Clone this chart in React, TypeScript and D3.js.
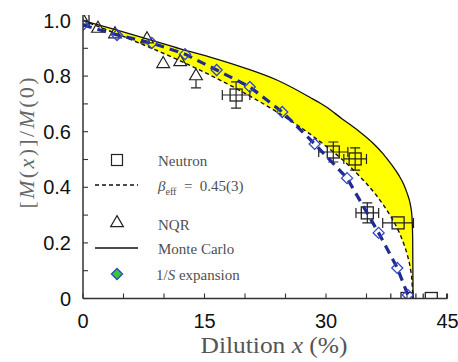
import React from "react";
import * as d3 from "d3";

// Monte Carlo band: upper solid curve and lower beta_eff dashed curve
const bandX = [0, 4, 8, 12, 16, 20, 24, 28, 30, 32, 34, 36, 37, 38, 39, 39.6, 40, 40.4, 40.6, 40.7, 40.75];
const monteCarloY = [1.0, 0.967, 0.933, 0.898, 0.866, 0.829, 0.785, 0.724, 0.69, 0.646, 0.603, 0.553, 0.522, 0.485, 0.443, 0.41, 0.38, 0.34, 0.3, 0.22, 0];
const betaEffY = [1.0, 0.954, 0.906, 0.855, 0.799, 0.738, 0.67, 0.592, 0.548, 0.5, 0.444, 0.379, 0.34, 0.295, 0.24, 0.197, 0.161, 0.11, 0.067, 0.02, 0];

// 1/S expansion
const spinX = [0, 4.2, 8.5, 12.6, 16.5, 20.6, 24.6, 28.6, 32.6, 36.5, 38.8, 40.1];
const spinY = [0.984, 0.948, 0.919, 0.879, 0.822, 0.761, 0.671, 0.556, 0.433, 0.236, 0.11, 0.013];
const spinEndX = 40.55;
const spinEndY = 0;

// NQR
const nqrX = [0, 1.85, 3.95, 7.9, 9.9, 12.0, 13.95];
const nqrY = [1.0, 0.971, 0.951, 0.933, 0.844, 0.851, 0.8];
const nqrYErr = [0, 0, 0, 0, 0, 0, 0.042];

// Neutron
const neutronX = [0, 18.9, 30.9, 33.6, 35.1, 38.9, 40.0, 43.0];
const neutronY = [1.0, 0.732, 0.527, 0.502, 0.308, 0.272, 0, 0];
const neutronXErr = [0, 1.7, 1.8, 1.4, 1.4, 1.9, 2.0, 1.9];
const neutronYErr = [0, 0.047, 0.036, 0.04, 0.036, 0, 0, 0];

const xTickLabels = [0, 15, 30, 45];
const yTickLabels = [0, 0.2, 0.4, 0.6, 0.8, 1.0];

const W = 458;
const H = 362;

export default function App() {
  const x = d3.scaleLinear().domain([0, 45]).range([83, 447.5]);
  const y = d3.scaleLinear().domain([0, 1]).range([298.5, 20.5]);
  const yTop = y(1.02);

  const band = bandX.map((v, i) => ({ x: v, lo: betaEffY[i], hi: monteCarloY[i] }));
  const area = d3
    .area<{ x: number; lo: number; hi: number }>()
    .x((d) => x(d.x))
    .y0((d) => y(d.lo))
    .y1((d) => y(d.hi))
    .curve(d3.curveMonotoneX);
  const line = d3
    .line<[number, number]>()
    .x((d) => x(d[0]))
    .y((d) => y(d[1]))
    .curve(d3.curveMonotoneX);
  const lineLin = d3
    .line<[number, number]>()
    .x((d) => x(d[0]))
    .y((d) => y(d[1]));

  const mcPts = bandX.map((v, i) => [v, monteCarloY[i]] as [number, number]);
  const betaPts = bandX.map((v, i) => [v, betaEffY[i]] as [number, number]);
  const spinPts = [...spinX.map((v, i) => [v, spinY[i]] as [number, number]), [spinEndX, spinEndY] as [number, number]];

  const tri = d3.symbol().type(d3.symbolTriangle).size(70)() as string;
  const yMinor = d3.range(0, 1.0001, 0.1);
  const xMinor = d3.range(0, 45.001, 5);

  const ink = "#222";
  const gray = "#4f4f4f";
  const blue = "#1f2c8f";
  const diamondStroke = "#3446c4";
  const serif = "'Liberation Serif', 'Times New Roman', serif";
  const sans = "'Liberation Sans', Arial, sans-serif";

  const sq = 12;
  const cap = 5;

  return (
    <svg width={W} height={H} style={{ position: "absolute", left: 0, top: 0, background: "#fff" }}>
      <defs>
        <clipPath id="plotClip">
          <rect x={x(0)} y={yTop} width={x(45) - x(0)} height={y(0) - yTop} />
        </clipPath>
      </defs>

      <g clipPath="url(#plotClip)">
        <path d={area(band) || ""} fill="#ffff00" stroke="none" />
        <path d={line(mcPts) || ""} fill="none" stroke="#111" strokeWidth={1.3} />
        <path d={line(betaPts) || ""} fill="none" stroke="#111" strokeWidth={1.4} strokeDasharray="4,3" />

        {/* Neutron error bars */}
        {neutronX.map((v, i) => {
          const cx = x(v);
          const cy = y(neutronY[i]);
          const ex = neutronXErr[i];
          const ey = neutronYErr[i];
          return (
            <g key={"ne" + i} stroke={ink} strokeWidth={1.2}>
              {ex > 0 && (
                <>
                  <line x1={x(v - ex)} x2={x(v + ex)} y1={cy} y2={cy} />
                  <line x1={x(v - ex)} x2={x(v - ex)} y1={cy - cap} y2={cy + cap} />
                  <line x1={x(v + ex)} x2={x(v + ex)} y1={cy - cap} y2={cy + cap} />
                </>
              )}
              {ey > 0 && (
                <>
                  <line x1={cx} x2={cx} y1={y(neutronY[i] - ey)} y2={y(neutronY[i] + ey)} />
                  <line x1={cx - cap} x2={cx + cap} y1={y(neutronY[i] - ey)} y2={y(neutronY[i] - ey)} />
                  <line x1={cx - cap} x2={cx + cap} y1={y(neutronY[i] + ey)} y2={y(neutronY[i] + ey)} />
                </>
              )}
            </g>
          );
        })}
        {neutronX.map((v, i) => (
          <rect
            key={"ns" + i}
            x={x(v) - sq / 2}
            y={y(neutronY[i]) - sq / 2}
            width={sq}
            height={sq}
            fill="none"
            stroke={ink}
            strokeWidth={1.3}
          />
        ))}

        {/* NQR */}
        {nqrX.map((v, i) => {
          const cx = x(v);
          const cy = y(nqrY[i]);
          const ey = nqrYErr[i];
          return (
            <g key={"nq" + i}>
              {ey > 0 && (
                <g stroke={ink} strokeWidth={1.2}>
                  <line x1={cx} x2={cx} y1={y(nqrY[i] - ey)} y2={cy + 4} />
                  <line x1={cx - cap} x2={cx + cap} y1={y(nqrY[i] - ey)} y2={y(nqrY[i] - ey)} />
                </g>
              )}
              <path d={tri} transform={`translate(${cx},${cy})`} fill="none" stroke={ink} strokeWidth={1.2} />
            </g>
          );
        })}

        {/* 1/S expansion */}
        <path d={lineLin(spinPts) || ""} fill="none" stroke={blue} strokeWidth={3.2} strokeDasharray="9,6" />
        {spinX.map((v, i) => {
          const cx = x(v);
          const cy = y(spinY[i]);
          const r = 5.5;
          return (
            <path
              key={"sp" + i}
              d={`M${cx},${cy - r}L${cx + r},${cy}L${cx},${cy + r}L${cx - r},${cy}Z`}
              fill="none"
              stroke={diamondStroke}
              strokeWidth={1.3}
            />
          );
        })}
      </g>

      {/* Axes */}
      <g stroke="#333" strokeWidth={1.5}>
        <line x1={x(0)} x2={x(0)} y1={y(0)} y2={yTop} />
        <line x1={x(0)} x2={x(45)} y1={y(0)} y2={y(0)} />
        {yMinor.map((t) => (
          <line key={"yt" + t} x1={x(0)} x2={x(0) + 5} y1={y(t)} y2={y(t)} strokeWidth={1.1} />
        ))}
        {xMinor.map((t) => (
          <line key={"xt" + t} x1={x(t)} x2={x(t)} y1={y(0)} y2={y(0) - 5} strokeWidth={1.1} />
        ))}
      </g>
      <g fontFamily={sans} fontSize={20} fill="#111">
        {yTickLabels.map((t) => (
          <text key={"yl" + t} x={71} y={y(t) + 7} textAnchor="end">
            {t === 0 ? "0" : d3.format(".1f")(t)}
          </text>
        ))}
        {xTickLabels.map((t) => (
          <text key={"xl" + t} x={x(t)} y={328} textAnchor="middle">
            {t}
          </text>
        ))}
      </g>

      {/* Axis titles */}
      <text
        transform={`translate(34,143) rotate(-90)`}
        textAnchor="middle"
        fontFamily={serif}
        fontSize={22}
        fill="#666"
        textLength={131}
        lengthAdjust="spacing"
      >
        [<tspan fontStyle="italic">M</tspan>(<tspan fontStyle="italic">x</tspan>)]/<tspan fontStyle="italic">M</tspan>(0)
      </text>
      <text
        x={274}
        y={353}
        textAnchor="middle"
        fontFamily={serif}
        fontSize={23}
        fill="#555"
        textLength={147}
        lengthAdjust="spacingAndGlyphs"
      >
        Dilution <tspan fontStyle="italic">x</tspan> (%)
      </text>

      {/* Legend */}
      <g fontFamily={serif} fontSize={15} fill={gray}>
        <rect x={117 - 5.5} y={160 - 5.5} width={11} height={11} fill="#fff" stroke={ink} strokeWidth={1.2} />
        <text x={158} y={166}>Neutron</text>

        <line x1={95} x2={138} y1={185} y2={185} stroke="#111" strokeWidth={1.3} strokeDasharray="4,3" />
        <text x={158} y={191}>
          <tspan fontStyle="italic">β</tspan>
          <tspan fontSize={10} dy={4}>eff</tspan>
          <tspan dy={-4}>{"\u2002=\u20020.45(3)"}</tspan>
        </text>

        <path d={tri} transform="translate(117,223)" fill="#fff" stroke={ink} strokeWidth={1.2} />
        <text x={158} y={230}>NQR</text>

        <line x1={95} x2={138} y1={248} y2={248} stroke="#111" strokeWidth={1.3} />
        <text x={158} y={254}>Monte Carlo</text>

        <path d="M117,268.5L122.5,274L117,279.5L111.5,274Z" fill="#33cc33" stroke={diamondStroke} strokeWidth={1.4} />
        <text x={156} y={280}>
          1/<tspan fontStyle="italic">S</tspan> expansion
        </text>
      </g>
    </svg>
  );
}
